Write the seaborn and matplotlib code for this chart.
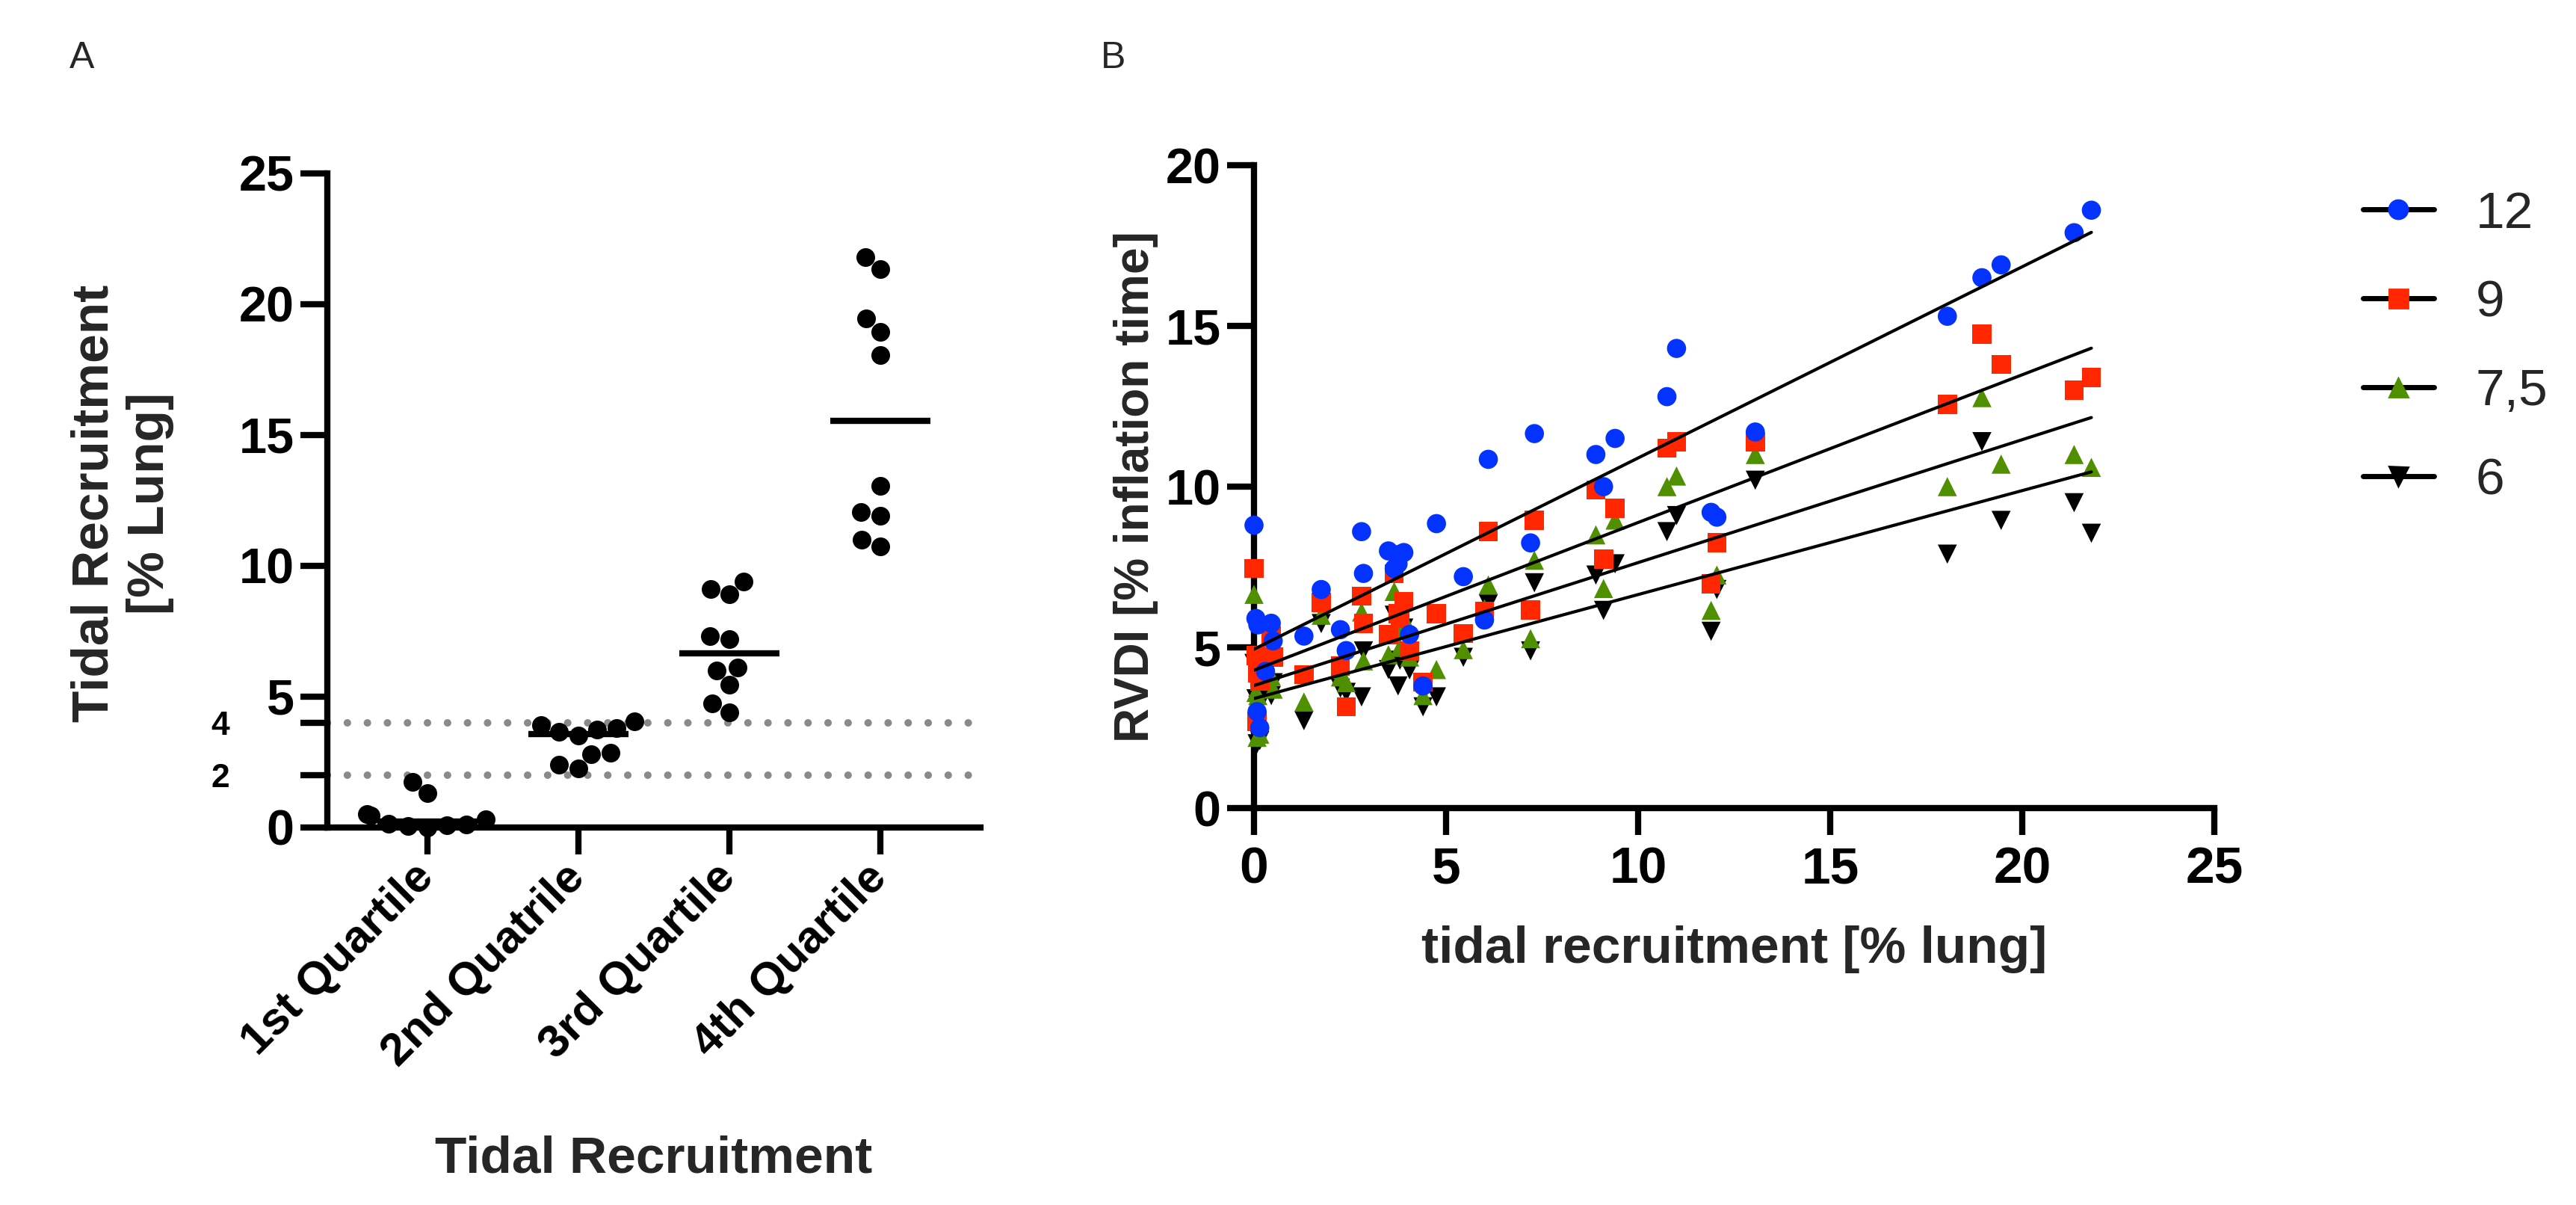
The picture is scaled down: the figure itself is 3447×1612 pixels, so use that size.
import numpy as np
import pandas as pd
import matplotlib
matplotlib.use("Agg")
import matplotlib.pyplot as plt
from matplotlib.lines import Line2D
import seaborn as sns

# panel A: tidal recruitment per quartile (% lung)
quartiles = ["1st Quartile", "2nd Quatrile", "3rd Quartile", "4th Quartile"]
q1 = [0.0, 0.05, 0.08, 0.1, 0.15, 0.3, 0.45, 0.5, 1.3, 1.75]
q2 = [2.25, 2.4, 2.8, 2.85, 3.5, 3.65, 3.75, 3.8, 3.9, 4.05]
q3 = [4.4, 4.75, 5.45, 6.0, 6.1, 7.2, 7.3, 8.9, 9.1, 9.4]
q4 = [10.75, 11.0, 11.9, 12.05, 13.05, 18.05, 18.95, 19.45, 21.35, 21.8]
tidal = q1 + q2 + q3 + q4

# panel B: RVDI (% inflation time) at each tidal recruitment value, per PEEP level
rvdi_12 = [8.8, 5.9, 3.0, 5.7, 2.5, 4.25, 5.75, 5.2, 5.35, 6.8,
           5.55, 4.9, 8.6, 7.3, 8.0, 7.45, 7.6, 7.9, 7.95, 5.4,
           3.8, 8.85, 7.2, 5.85, 10.85, 8.25, 11.65, 11.0, 10.0, 11.5,
           12.8, 14.3, 9.2, 9.05, 11.7, 15.3, 16.5, 16.9, 17.9, 18.6]
rvdi_9 = [7.45, 4.75, 2.7, 4.2, 3.95, 4.7, 5.35, 4.7, 4.15, 6.4,
          4.42, 3.15, 6.59, 5.74, 5.39, 7.29, 6.05, 5.9, 6.43, 4.89,
          3.92, 6.05, 5.43, 6.12, 8.6, 6.16, 8.95, 9.9, 7.75, 9.33,
          11.2, 11.4, 6.98, 8.25, 11.4, 12.56, 14.75, 13.8, 13.0, 13.4]
rvdi_75 = [6.65, 3.6, 2.2, 3.5, 2.3, 4.0, 4.1, 3.7, 3.3, 6.0,
           4.08, 3.9, 6.1, 4.58, 4.77, 6.74, 5.6, 5.0, 5.9, 4.7,
           3.5, 4.31, 4.93, 6.2, 6.94, 5.27, 7.71, 8.5, 6.83, 8.96,
           10.0, 10.33, 6.15, 7.25, 11.0, 10.0, 12.77, 10.7, 11.0, 10.6]
rvdi_6 = [4.5, 3.4, 2.0, 3.2, 2.1, 3.6, 3.5, 3.9, 2.72, 5.74,
          3.73, 3.6, 3.46, 4.89, 4.31, 6.0, 3.8, 4.6, 5.6, 4.3,
          3.15, 3.46, 4.69, 5.9, 6.35, 4.89, 7.01, 7.25, 6.15, 7.6,
          8.6, 9.1, 5.5, 6.8, 10.2, 7.9, 11.4, 8.95, 9.5, 8.55]

peep_labels = ["12", "9", "7,5", "6"]
peep_colors = ["#0433ff", "#ff2600", "#4f8f00", "#000000"]
peep_markers = ["o", "s", "^", "v"]

sns.set_theme(style="ticks")
plt.rcParams["font.family"] = ["Liberation Sans", "DejaVu Sans"]
plt.rcParams["axes.edgecolor"] = "black"
plt.rcParams["xtick.color"] = "black"
plt.rcParams["ytick.color"] = "black"

fig = plt.figure(figsize=(17.24, 8.06), dpi=200)
axA = fig.add_axes([0.12703, 0.31328, 0.25348, 0.5428])
axB = fig.add_axes([0.48666, 0.3294, 0.37268, 0.5335])

# ---- panel A
dfA = pd.DataFrame({"group": np.repeat(quartiles, 10), "tr": tidal})
for yv in [2, 4]:
    axA.axhline(yv, color="#8a8a8a", lw=3.6, linestyle=(0, (0.01, 2.67)),
                dash_capstyle="round", zorder=1)
sns.swarmplot(data=dfA, x="group", y="tr", color="black", size=9,
              ax=axA, zorder=3, clip_on=False)
med = dfA.groupby("group", sort=False)["tr"].median()
for i, m in enumerate(med):
    axA.hlines(m, i - 0.33, i + 0.33, color="black", lw=3, zorder=2)

axA.set_xlim(-0.664, 3.664)
axA.set_ylim(0, 25)
axA.set_yticks([0, 5, 10, 15, 20, 25])
axA.set_yticklabels(["0", "5", "10", "15", "20", "25"], fontsize=24, fontweight="bold")
axA.set_yticks([2, 4], minor=True)
axA.set_yticklabels(["2", "4"], minor=True, fontsize=16, fontweight="bold")
axA.set_xticks(range(4))
axA.set_xticklabels(quartiles, rotation=45, ha="right", va="center",
                    rotation_mode="anchor", fontsize=22, fontweight="bold")
axA.tick_params(which="both", length=13, width=3, pad=3)
axA.tick_params(axis="y", which="minor", pad=34)
axA.tick_params(axis="x", pad=8)
sns.despine(ax=axA)
for s in ["left", "bottom"]:
    axA.spines[s].set_linewidth(3)
axA.set_xlabel("Tidal Recruitment", fontsize=25, fontweight="bold")
axA.set_ylabel("Tidal Recruitment\n[% Lung]", fontsize=25, fontweight="bold")
axA.xaxis.set_label_coords(0.5, -0.47)
axA.yaxis.set_label_coords(-0.2346, 0.496)

# ---- panel B
series = [rvdi_12, rvdi_9, rvdi_75, rvdi_6]
dfB = pd.concat([pd.DataFrame({"tidal": tidal, "rvdi": vals, "peep": lab})
                 for lab, vals in zip(peep_labels, series)][::-1], ignore_index=True)
sns.scatterplot(data=dfB, x="tidal", y="rvdi", hue="peep", style="peep",
                hue_order=peep_labels, style_order=peep_labels,
                palette=dict(zip(peep_labels, peep_colors)),
                markers=dict(zip(peep_labels, peep_markers)),
                s=85, linewidth=0, legend=False, ax=axB, zorder=3, clip_on=False)
for vals in series:
    sns.regplot(x=tidal, y=vals, scatter=False, ci=None, color="black",
                line_kws={"lw": 1.5, "zorder": 4}, ax=axB)

axB.set_xlim(0, 25)
axB.set_ylim(0, 20)
axB.set_xticks([0, 5, 10, 15, 20, 25])
axB.set_xticklabels(["0", "5", "10", "15", "20", "25"], fontsize=25, fontweight="bold")
axB.set_yticks([0, 5, 10, 15, 20])
axB.set_yticklabels(["0", "5", "10", "15", "20"], fontsize=24, fontweight="bold")
axB.tick_params(length=13, width=3, pad=3)
axB.tick_params(axis="x", pad=5)
sns.despine(ax=axB)
for s in ["left", "bottom"]:
    axB.spines[s].set_linewidth(3)
axB.set_xlabel("tidal recruitment [% lung]", fontsize=25, fontweight="bold")
axB.set_ylabel("RVDI [% inflation time]", fontsize=23, fontweight="bold")
axB.xaxis.set_label_coords(0.5, -0.183)
axB.yaxis.set_label_coords(-0.0996, 0.50)

handles = [Line2D([0], [0], color="black", lw=2.5, marker=m, markersize=9,
                  markerfacecolor=c, markeredgecolor=c)
           for m, c in zip(peep_markers, peep_colors)]
fig.legend(handles, peep_labels, loc="upper left", bbox_to_anchor=(0.917, 0.842),
           frameon=False, fontsize=25, handlelength=1.37, handletextpad=0.8,
           labelspacing=0.79, borderpad=0, borderaxespad=0)

fig.text(110 / 3448, 1 - 78 / 1612, "A", fontsize=18, ha="center", va="center")
fig.text(1490 / 3448, 1 - 78 / 1612, "B", fontsize=18, ha="center", va="center")

fig.savefig("out.png", dpi=200, facecolor="white")
